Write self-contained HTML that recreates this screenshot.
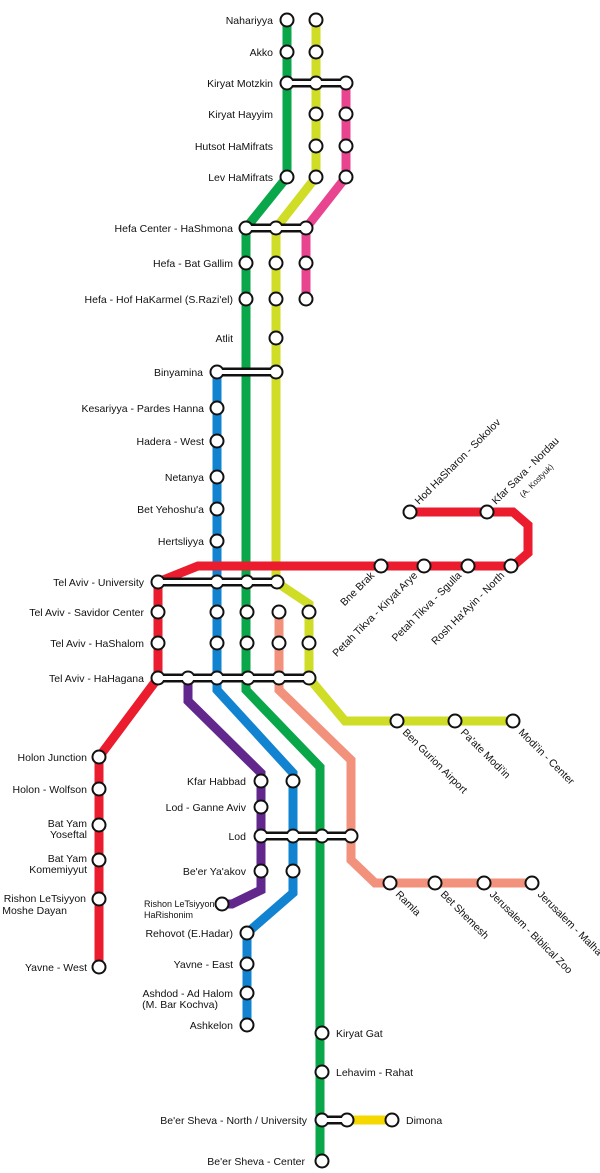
<!DOCTYPE html>
<html><head><meta charset="utf-8"><style>
html,body{margin:0;padding:0;background:#fff;}
svg{display:block;}
text{font-family:"Liberation Sans",Arial,sans-serif;font-size:10.5px;fill:#111;}
</style></head><body>
<svg width="600" height="1173" viewBox="0 0 600 1173" xmlns="http://www.w3.org/2000/svg">
<g fill="none" stroke-width="9" stroke-linejoin="miter">
<!-- green -->
<polyline stroke="#0aa64a" points="287,20 287,177 246,228 246,690 320,767 320,1161"/>
<!-- yellow-green -->
<polyline stroke="#cfdd26" points="316,20 316,177 276,228 276,582 309,604 309,678 345,721 513,721"/>
<!-- pink -->
<polyline stroke="#e8448f" points="346,83 346,177 306,228 306,299"/>
<!-- blue -->
<polyline stroke="#1283d0" points="217,372 217,690 293,773 293,893 247,933 247,1025"/>
<!-- salmon -->
<polyline stroke="#f2917c" points="279,612 279,690 351,760 351,860 375,883 532,883"/>
<!-- purple -->
<polyline stroke="#62278c" points="188,678 188,701 261,773 261,890 232,904 222,904"/>
<!-- red -->
<polyline stroke="#ea1c2d" points="158,582 198,566 513,566 528,553 528,525 513,512 410,512"/>
<polyline stroke="#ea1c2d" points="158,582 158,678 99,757 99,967"/>
<!-- dimona -->
<line stroke="#f5d800" x1="347" y1="1120" x2="392" y2="1120"/>
</g>
<!-- interchange bands -->
<g fill="#111">
<rect x="287" y="78.5" width="59" height="9"/>
<rect x="246" y="223.5" width="60" height="9"/>
<rect x="217" y="367.5" width="59" height="9"/>
<rect x="158" y="577.5" width="119" height="9"/>
<rect x="158" y="673.5" width="151" height="9"/>
<rect x="261" y="831.5" width="90" height="9"/>
<rect x="322" y="1115.5" width="25" height="9"/>
</g>
<g fill="#111" id="blk">
<circle cx="287" cy="20" r="7.5"/><circle cx="316" cy="20" r="7.5"/>
<circle cx="287" cy="52" r="7.5"/><circle cx="316" cy="52" r="7.5"/>
<circle cx="287" cy="83" r="7.5"/><circle cx="316" cy="83" r="7.5"/><circle cx="346" cy="83" r="7.5"/>
<circle cx="316" cy="114" r="7.5"/><circle cx="346" cy="114" r="7.5"/>
<circle cx="316" cy="146" r="7.5"/><circle cx="346" cy="146" r="7.5"/>
<circle cx="287" cy="177" r="7.5"/><circle cx="316" cy="177" r="7.5"/><circle cx="346" cy="177" r="7.5"/>
<circle cx="246" cy="228" r="7.5"/><circle cx="276" cy="228" r="7.5"/><circle cx="306" cy="228" r="7.5"/>
<circle cx="246" cy="263" r="7.5"/><circle cx="276" cy="263" r="7.5"/><circle cx="306" cy="263" r="7.5"/>
<circle cx="246" cy="299" r="7.5"/><circle cx="276" cy="299" r="7.5"/><circle cx="306" cy="299" r="7.5"/>
<circle cx="276" cy="338" r="7.5"/>
<circle cx="217" cy="372" r="7.5"/><circle cx="276" cy="372" r="7.5"/>
<circle cx="217" cy="408" r="7.5"/><circle cx="217" cy="441" r="7.5"/><circle cx="217" cy="477" r="7.5"/><circle cx="217" cy="509" r="7.5"/><circle cx="217" cy="541" r="7.5"/>
<circle cx="410" cy="512" r="7.5"/><circle cx="487" cy="512" r="7.5"/>
<circle cx="381" cy="566" r="7.5"/><circle cx="424" cy="566" r="7.5"/><circle cx="468" cy="566" r="7.5"/><circle cx="511" cy="566" r="7.5"/>
<circle cx="158" cy="582" r="7.5"/><circle cx="217" cy="582" r="7.5"/><circle cx="247" cy="582" r="7.5"/><circle cx="277" cy="582" r="7.5"/>
<circle cx="158" cy="612" r="7.5"/><circle cx="217" cy="612" r="7.5"/><circle cx="247" cy="612" r="7.5"/><circle cx="279" cy="612" r="7.5"/><circle cx="309" cy="612" r="7.5"/>
<circle cx="158" cy="643" r="7.5"/><circle cx="217" cy="643" r="7.5"/><circle cx="247" cy="643" r="7.5"/><circle cx="279" cy="643" r="7.5"/><circle cx="309" cy="643" r="7.5"/>
<circle cx="158" cy="678" r="7.5"/><circle cx="188" cy="678" r="7.5"/><circle cx="217" cy="678" r="7.5"/><circle cx="248" cy="678" r="7.5"/><circle cx="279" cy="678" r="7.5"/><circle cx="309" cy="678" r="7.5"/>
<circle cx="397" cy="721" r="7.5"/><circle cx="455" cy="721" r="7.5"/><circle cx="513" cy="721" r="7.5"/>
<circle cx="99" cy="757" r="7.5"/><circle cx="99" cy="789" r="7.5"/><circle cx="99" cy="825" r="7.5"/><circle cx="99" cy="860" r="7.5"/><circle cx="99" cy="899" r="7.5"/><circle cx="99" cy="967" r="7.5"/>
<circle cx="261" cy="781" r="7.5"/><circle cx="293" cy="781" r="7.5"/>
<circle cx="261" cy="807" r="7.5"/>
<circle cx="261" cy="836" r="7.5"/><circle cx="293" cy="836" r="7.5"/><circle cx="322" cy="836" r="7.5"/><circle cx="351" cy="836" r="7.5"/>
<circle cx="261" cy="871" r="7.5"/><circle cx="293" cy="871" r="7.5"/>
<circle cx="222" cy="904" r="7.5"/>
<circle cx="390" cy="883" r="7.5"/><circle cx="435" cy="883" r="7.5"/><circle cx="484" cy="883" r="7.5"/><circle cx="532" cy="883" r="7.5"/>
<circle cx="247" cy="933" r="7.5"/><circle cx="247" cy="964" r="7.5"/><circle cx="247" cy="993" r="7.5"/><circle cx="247" cy="1025" r="7.5"/>
<circle cx="322" cy="1033" r="7.5"/><circle cx="322" cy="1072" r="7.5"/>
<circle cx="322" cy="1120" r="7.5"/><circle cx="347" cy="1120" r="7.5"/><circle cx="392" cy="1120" r="7.5"/>
<circle cx="322" cy="1161" r="7.5"/>
</g>
<use href="#blk" fill="#fff" transform="translate(0,0)" style="display:none"/>
<g fill="#fff">
<rect x="287" y="81" width="59" height="4"/>
<rect x="246" y="226" width="60" height="4"/>
<rect x="217" y="370" width="59" height="4"/>
<rect x="158" y="580" width="119" height="4"/>
<rect x="158" y="676" width="151" height="4"/>
<rect x="261" y="834" width="90" height="4"/>
<rect x="322" y="1118" width="25" height="4"/>
</g>
<g fill="#fff">
<circle cx="287" cy="20" r="5.5"/><circle cx="316" cy="20" r="5.5"/>
<circle cx="287" cy="52" r="5.5"/><circle cx="316" cy="52" r="5.5"/>
<circle cx="287" cy="83" r="5.5"/><circle cx="316" cy="83" r="5.5"/><circle cx="346" cy="83" r="5.5"/>
<circle cx="316" cy="114" r="5.5"/><circle cx="346" cy="114" r="5.5"/>
<circle cx="316" cy="146" r="5.5"/><circle cx="346" cy="146" r="5.5"/>
<circle cx="287" cy="177" r="5.5"/><circle cx="316" cy="177" r="5.5"/><circle cx="346" cy="177" r="5.5"/>
<circle cx="246" cy="228" r="5.5"/><circle cx="276" cy="228" r="5.5"/><circle cx="306" cy="228" r="5.5"/>
<circle cx="246" cy="263" r="5.5"/><circle cx="276" cy="263" r="5.5"/><circle cx="306" cy="263" r="5.5"/>
<circle cx="246" cy="299" r="5.5"/><circle cx="276" cy="299" r="5.5"/><circle cx="306" cy="299" r="5.5"/>
<circle cx="276" cy="338" r="5.5"/>
<circle cx="217" cy="372" r="5.5"/><circle cx="276" cy="372" r="5.5"/>
<circle cx="217" cy="408" r="5.5"/><circle cx="217" cy="441" r="5.5"/><circle cx="217" cy="477" r="5.5"/><circle cx="217" cy="509" r="5.5"/><circle cx="217" cy="541" r="5.5"/>
<circle cx="410" cy="512" r="5.5"/><circle cx="487" cy="512" r="5.5"/>
<circle cx="381" cy="566" r="5.5"/><circle cx="424" cy="566" r="5.5"/><circle cx="468" cy="566" r="5.5"/><circle cx="511" cy="566" r="5.5"/>
<circle cx="158" cy="582" r="5.5"/><circle cx="217" cy="582" r="5.5"/><circle cx="247" cy="582" r="5.5"/><circle cx="277" cy="582" r="5.5"/>
<circle cx="158" cy="612" r="5.5"/><circle cx="217" cy="612" r="5.5"/><circle cx="247" cy="612" r="5.5"/><circle cx="279" cy="612" r="5.5"/><circle cx="309" cy="612" r="5.5"/>
<circle cx="158" cy="643" r="5.5"/><circle cx="217" cy="643" r="5.5"/><circle cx="247" cy="643" r="5.5"/><circle cx="279" cy="643" r="5.5"/><circle cx="309" cy="643" r="5.5"/>
<circle cx="158" cy="678" r="5.5"/><circle cx="188" cy="678" r="5.5"/><circle cx="217" cy="678" r="5.5"/><circle cx="248" cy="678" r="5.5"/><circle cx="279" cy="678" r="5.5"/><circle cx="309" cy="678" r="5.5"/>
<circle cx="397" cy="721" r="5.5"/><circle cx="455" cy="721" r="5.5"/><circle cx="513" cy="721" r="5.5"/>
<circle cx="99" cy="757" r="5.5"/><circle cx="99" cy="789" r="5.5"/><circle cx="99" cy="825" r="5.5"/><circle cx="99" cy="860" r="5.5"/><circle cx="99" cy="899" r="5.5"/><circle cx="99" cy="967" r="5.5"/>
<circle cx="261" cy="781" r="5.5"/><circle cx="293" cy="781" r="5.5"/>
<circle cx="261" cy="807" r="5.5"/>
<circle cx="261" cy="836" r="5.5"/><circle cx="293" cy="836" r="5.5"/><circle cx="322" cy="836" r="5.5"/><circle cx="351" cy="836" r="5.5"/>
<circle cx="261" cy="871" r="5.5"/><circle cx="293" cy="871" r="5.5"/>
<circle cx="222" cy="904" r="5.5"/>
<circle cx="390" cy="883" r="5.5"/><circle cx="435" cy="883" r="5.5"/><circle cx="484" cy="883" r="5.5"/><circle cx="532" cy="883" r="5.5"/>
<circle cx="247" cy="933" r="5.5"/><circle cx="247" cy="964" r="5.5"/><circle cx="247" cy="993" r="5.5"/><circle cx="247" cy="1025" r="5.5"/>
<circle cx="322" cy="1033" r="5.5"/><circle cx="322" cy="1072" r="5.5"/>
<circle cx="322" cy="1120" r="5.5"/><circle cx="347" cy="1120" r="5.5"/><circle cx="392" cy="1120" r="5.5"/>
<circle cx="322" cy="1161" r="5.5"/>
</g>
<!-- labels right-aligned -->
<g text-anchor="end">
<text x="273" y="24">Nahariyya</text>
<text x="273" y="56">Akko</text>
<text x="273" y="87">Kiryat Motzkin</text>
<text x="273" y="118">Kiryat Hayyim</text>
<text x="273" y="150">Hutsot HaMifrats</text>
<text x="273" y="181">Lev HaMifrats</text>
<text x="233" y="232">Hefa Center - HaShmona</text>
<text x="233" y="267">Hefa - Bat Gallim</text>
<text x="233" y="303">Hefa - Hof HaKarmel (S.Razi'el)</text>
<text x="233" y="342">Atlit</text>
<text x="203" y="376">Binyamina</text>
<text x="204" y="412">Kesariyya - Pardes Hanna</text>
<text x="204" y="445">Hadera - West</text>
<text x="204" y="481">Netanya</text>
<text x="204" y="513">Bet Yehoshu'a</text>
<text x="204" y="545">Hertsliyya</text>
<text x="144" y="586">Tel Aviv - University</text>
<text x="144" y="616">Tel Aviv - Savidor Center</text>
<text x="144" y="647">Tel Aviv - HaShalom</text>
<text x="144" y="682">Tel Aviv - HaHagana</text>
<text x="87" y="761">Holon Junction</text>
<text x="87" y="793">Holon - Wolfson</text>
<text x="87" y="827">Bat Yam</text>
<text x="87" y="838">Yoseftal</text>
<text x="87" y="862">Bat Yam</text>
<text x="87" y="873">Komemiyyut</text>
<text x="86" y="902">Rishon LeTsiyyon</text>
<text x="67" y="914">Moshe Dayan</text>
<text x="87" y="971">Yavne - West</text>
<text x="246" y="785">Kfar Habbad</text>
<text x="246" y="811">Lod - Ganne Aviv</text>
<text x="246" y="840">Lod</text>
<text x="246" y="875">Be'er Ya'akov</text>
<text x="233" y="937">Rehovot (E.Hadar)</text>
<text x="233" y="968">Yavne - East</text>
<text x="233" y="997">Ashdod - Ad Halom</text>
<text x="218" y="1008">(M. Bar Kochva)</text>
<text x="233" y="1029">Ashkelon</text>
<text x="307" y="1124">Be'er Sheva - North / University</text>
<text x="305" y="1165">Be'er Sheva - Center</text>
</g>
<text x="144" y="907" style="font-size:9px">Rishon LeTsiyyon</text>
<text x="144" y="918" style="font-size:9px">HaRishonim</text>
<text x="336" y="1037">Kiryat Gat</text>
<text x="336" y="1076">Lehavim - Rahat</text>
<text x="406" y="1124">Dimona</text>
<!-- rotated up-right -->
<text transform="translate(419,505) rotate(-45)">Hod HaSharon - Sokolov</text>
<text transform="translate(496,505) rotate(-45)">Kfar Sava - Nordau</text>
<text transform="translate(523,498) rotate(-45)" style="font-size:8px">(A. Kostyuk)</text>
<!-- rotated down-left -->
<g text-anchor="end">
<text transform="translate(375,576) rotate(-45)">Bne Brak</text>
<text transform="translate(418,576) rotate(-45)">Petah Tikva - Kiryat Arye</text>
<text transform="translate(462,576) rotate(-45)">Petah Tikva - Sgulla</text>
<text transform="translate(505,576) rotate(-45)">Rosh Ha'Ayin - North</text>
</g>
<!-- rotated down-right -->
<text transform="translate(402,733) rotate(45)">Ben Gurion Airport</text>
<text transform="translate(460,733) rotate(45)">Pa'ate Modi'in</text>
<text transform="translate(518,733) rotate(45)">Modi'in - Center</text>
<text transform="translate(395,895) rotate(45)">Ramla</text>
<text transform="translate(440,895) rotate(45)">Bet Shemesh</text>
<text transform="translate(489,895) rotate(45)">Jerusalem - Biblical Zoo</text>
<text transform="translate(537,895) rotate(45)">Jerusalem - Malha</text>
</svg>
</body></html>
